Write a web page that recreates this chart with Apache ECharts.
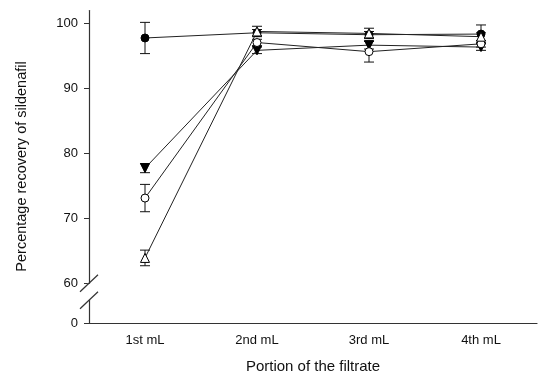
<!DOCTYPE html>
<html><head><meta charset="utf-8">
<script src="https://cdn.jsdelivr.net/npm/echarts@6/dist/echarts.min.js"></script>
<style>html,body{margin:0;padding:0;background:#fff}#c{width:550px;height:383px}</style>
</head><body><div id="c"></div>
<script>
const categories = ['1st mL', '2nd mL', '3rd mL', '4th mL'];
const filledCircle = [97.7, 98.5, 98.2, 98.3];
const filledCircleErr = [2.4, 0.5, 0.5, 1.4];
const downTriangle = [77.7, 95.8, 96.6, 96.3];
const downTriangleErr = [0.7, 0.5, 0.6, 0.5];
const openCircle = [73.1, 97.0, 95.6, 96.8];
const openCircleErr = [2.1, 0.5, 1.6, 0.5];
const openTriangle = [63.9, 98.7, 98.4, 97.9];
const openTriangleErr = [1.2, 0.8, 0.8, 0.6];
const yTickValues = [0, 60, 70, 80, 90, 100];
const yBreakStart = 3.5, yBreakEnd = 60, yBreakGap = 2.6;

const FONT = '"Liberation Sans", Arial, sans-serif';
const chart = echarts.init(document.getElementById('c'), null, {renderer: 'canvas'});

function errData(vals, errs) {
  return vals.map((v, i) => [i, v - errs[i], v + errs[i]]);
}
function errRender(params, api) {
  const x = api.value(0), lo = api.value(1), hi = api.value(2);
  const p1 = api.coord([x, hi]), p2 = api.coord([x, lo]);
  const w = 5;
  const st = {stroke: '#111', lineWidth: 1};
  return {type: 'group', children: [
    {type: 'line', shape: {x1: p1[0], y1: p1[1], x2: p2[0], y2: p2[1]}, style: st},
    {type: 'line', shape: {x1: p1[0] - w, y1: p1[1], x2: p1[0] + w, y2: p1[1]}, style: st},
    {type: 'line', shape: {x1: p2[0] - w, y1: p2[1], x2: p2[0] + w, y2: p2[1]}, style: st}
  ]};
}
function lineSeries(name, data, symbol, size, filled, rotate) {
  return {
    name, type: 'line', data, symbol, symbolSize: size, symbolRotate: rotate || 0,
    z: 3, animation: false,
    lineStyle: {color: '#222', width: 1},
    itemStyle: {color: filled ? '#000' : '#fff', borderColor: '#000', borderWidth: 1}
  };
}
function errSeries(vals, errs) {
  return {type: 'custom', renderItem: errRender, data: errData(vals, errs),
    encode: {x: 0, y: [1, 2]}, z: 2, animation: false};
}

chart.setOption({
  animation: false,
  backgroundColor: '#fff',
  grid: {left: 89, right: 13, top: 10, bottom: 60, containLabel: false},
  xAxis: {
    type: 'category', data: categories, boundaryGap: true,
    axisLine: {lineStyle: {color: '#333', width: 1.2}},
    axisTick: {alignWithLabel: true, length: 5, lineStyle: {color: '#333'}},
    axisLabel: {color: '#111', fontFamily: FONT, fontSize: 13, margin: 11},
    name: 'Portion of the filtrate', nameLocation: 'middle', nameGap: 36,
    nameTextStyle: {color: '#111', fontFamily: FONT, fontSize: 15},
    splitLine: {show: false}
  },
  yAxis: {
    type: 'value', min: 0, max: 102,
    breaks: [{start: yBreakStart, end: yBreakEnd, gap: yBreakGap}],
    breakArea: {show: false},
    axisLine: {show: true, lineStyle: {color: '#333', width: 1.2}},
    axisTick: {show: true, length: 5, customValues: yTickValues, lineStyle: {color: '#333'}},
    axisLabel: {color: '#111', fontFamily: FONT, fontSize: 13, margin: 11, customValues: yTickValues},
    splitLine: {show: false},
    name: 'Percentage recovery of sildenafil', nameLocation: 'middle', nameGap: 60,
    nameTextStyle: {color: '#111', fontFamily: FONT, fontSize: 14.5}
  },
  series: [
    errSeries(filledCircle, filledCircleErr),
    errSeries(downTriangle, downTriangleErr),
    errSeries(openCircle, openCircleErr),
    errSeries(openTriangle, openTriangleErr),
    lineSeries('filled circle', filledCircle, 'circle', 8, true),
    lineSeries('down triangle', downTriangle, 'triangle', 9, true, 180),
    lineSeries('open circle', openCircle, 'circle', 8, false),
    lineSeries('open triangle', openTriangle, 'triangle', 9, false)
  ]
});

// axis break decoration (two slashes on the y axis)
const ax = chart.getModel().getComponent('grid', 0).coordinateSystem.getRect().x;
const yS = chart.convertToPixel({yAxisIndex: 0}, yBreakEnd);
const yE = chart.convertToPixel({yAxisIndex: 0}, yBreakStart);
const slash = (yc) => ({type: 'line', silent: true, z: 100,
  shape: {x1: ax - 9, y1: yc + 8.5, x2: ax + 9, y2: yc - 8.5},
  style: {stroke: '#333', lineWidth: 1.2}});
chart.setOption({graphic: [
  {type: 'rect', silent: true, z: 99, shape: {x: ax - 2, y: yS + 0.5, width: 4, height: yE - yS - 1},
    style: {fill: '#fff'}},
  slash(yS), slash(yE)
]});
</script></body></html>
